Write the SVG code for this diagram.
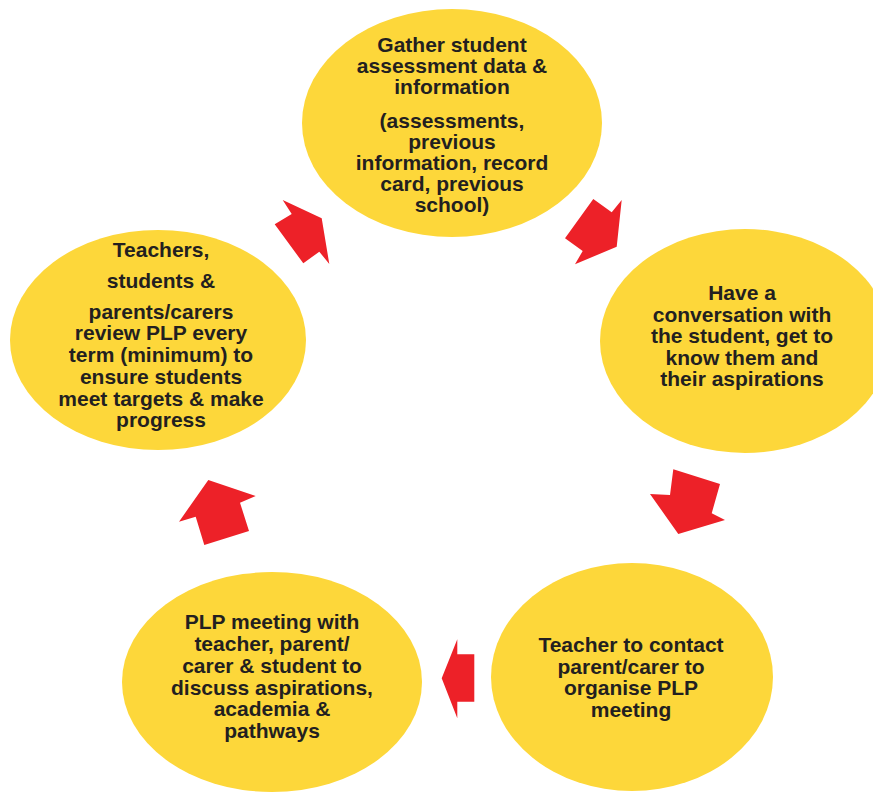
<svg xmlns="http://www.w3.org/2000/svg" width="873" height="794" viewBox="0 0 873 794">
<style>
.node{fill:#fdd73a;}
.t{font-family:"Liberation Sans",Arial,sans-serif;font-weight:bold;font-size:21px;fill:#231f20;text-anchor:middle;}
.arr{fill:#ed2128;}
</style>
<rect width="873" height="794" fill="#ffffff"/>
<g id="connectors">
<polygon class="arr" points="282.7,200 321.7,218.3 329.3,264 319.3,251.7 303.3,263.3 274.7,224.3 291.7,214"/>
<polygon class="arr" points="593.3,199 611.7,212.3 621.7,200 616.7,246.7 575,264.3 582.7,251 565,238.3"/>
<polygon class="arr" points="673.3,469.3 720,484 711.7,513.3 725,520 678.3,534 650,494 670,495"/>
<polygon class="arr" points="441.7,678.3 457.3,639.3 457.3,654.3 474.3,654.3 474.3,701.7 457.3,701.7 457.3,718.3"/>
<polygon class="arr" points="208.3,480 255.7,496 240,502.7 249,531 204.3,545 195.7,516.7 179,521.7"/>
</g>
<g id="node-gather">
<ellipse class="node" cx="452" cy="123" rx="150" ry="114"/>
<text class="t" x="452" y="52">Gather student</text>
<text class="t" x="452" y="73">assessment data &amp;</text>
<text class="t" x="452" y="94">information</text>
<text class="t" x="452" y="128">(assessments,</text>
<text class="t" x="452" y="149">previous</text>
<text class="t" x="452" y="170">information, record</text>
<text class="t" x="452" y="191">card, previous</text>
<text class="t" x="452" y="212">school)</text>
</g>
<g id="node-conversation">
<ellipse class="node" cx="745" cy="341" rx="145" ry="112"/>
<text class="t" x="742" y="300">Have a</text>
<text class="t" x="742" y="322">conversation with</text>
<text class="t" x="742" y="343">the student, get to</text>
<text class="t" x="742" y="365">know them and</text>
<text class="t" x="742" y="386">their aspirations</text>
</g>
<g id="node-contact">
<ellipse class="node" cx="632" cy="677" rx="141" ry="114"/>
<text class="t" x="631" y="652">Teacher to contact</text>
<text class="t" x="631" y="674">parent/carer to</text>
<text class="t" x="631" y="695">organise PLP</text>
<text class="t" x="631" y="717">meeting</text>
</g>
<g id="node-meeting">
<ellipse class="node" cx="272" cy="682" rx="150" ry="110"/>
<text class="t" x="272" y="629">PLP meeting with</text>
<text class="t" x="272" y="651">teacher, parent/</text>
<text class="t" x="272" y="673">carer &amp; student to</text>
<text class="t" x="272" y="695">discuss aspirations,</text>
<text class="t" x="272" y="716">academia &amp;</text>
<text class="t" x="272" y="738">pathways</text>
</g>
<g id="node-review">
<ellipse class="node" cx="158" cy="340" rx="148" ry="110"/>
<text class="t" x="161" y="257">Teachers,</text>
<text class="t" x="161" y="288">students &amp;</text>
<text class="t" x="161" y="319">parents/carers</text>
<text class="t" x="161" y="340">review PLP every</text>
<text class="t" x="161" y="362">term (minimum) to</text>
<text class="t" x="161" y="384">ensure students</text>
<text class="t" x="161" y="406">meet targets &amp; make</text>
<text class="t" x="161" y="427">progress</text>
</g>
</svg>
